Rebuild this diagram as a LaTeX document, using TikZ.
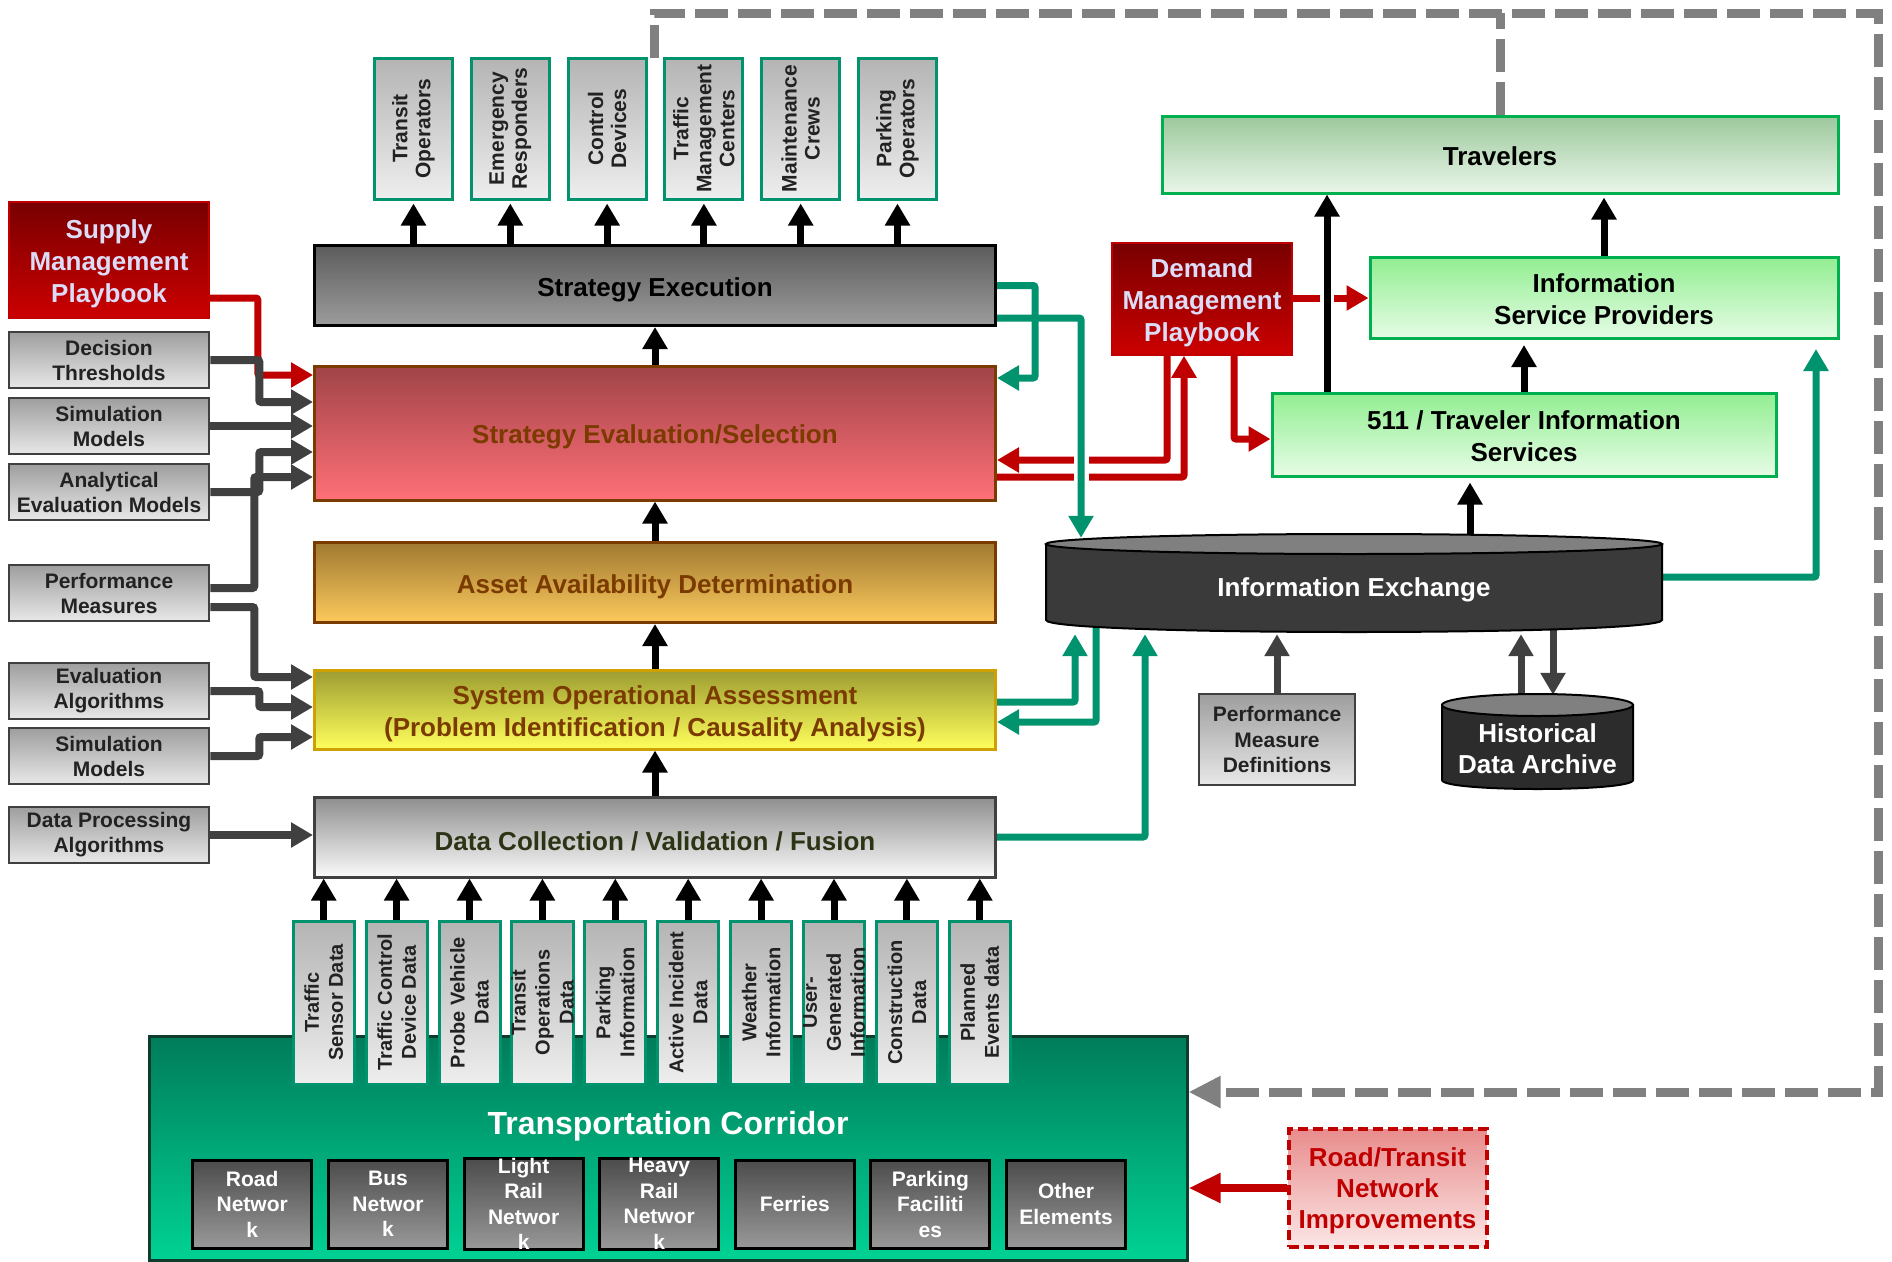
\documentclass[tikz,border=0pt]{standalone}
\usepackage{fontspec}
\setmainfont{Liberation Sans}
\usepackage{xcolor}
\usepackage{tikz}
\usetikzlibrary{arrows.meta}

\definecolor{grayk}{HTML}{404040}
\definecolor{inktext}{HTML}{222222}
\definecolor{inboxtop}{HTML}{9E9E9E}
\definecolor{inboxbot}{HTML}{E8E8E8}
\definecolor{redk}{HTML}{C00000}
\definecolor{pbtop}{HTML}{780000}
\definecolor{pbbot}{HTML}{CC0000}
\definecolor{pbtext}{HTML}{DCDCF6}
\definecolor{brk}{HTML}{7A3A00}
\definecolor{exectop}{HTML}{5C5C5C}
\definecolor{execbot}{HTML}{9C9C9C}
\definecolor{evaltop}{HTML}{A04448}
\definecolor{evalbot}{HTML}{FF7078}
\definecolor{assettop}{HTML}{A07A32}
\definecolor{assetbot}{HTML}{FCC95C}
\definecolor{sysedge}{HTML}{D0A000}
\definecolor{systop}{HTML}{9C9C32}
\definecolor{sysbot}{HTML}{FFFF5C}
\definecolor{dcoltop}{HTML}{8E8E8E}
\definecolor{dcolbot}{HTML}{FAFAFA}
\definecolor{dcoltext}{HTML}{2C3416}
\definecolor{tealk}{HTML}{00936E}
\definecolor{actortop}{HTML}{B4B4B4}
\definecolor{actorbot}{HTML}{EEEEEE}
\definecolor{greenk}{HTML}{00B050}
\definecolor{infotop}{HTML}{92EE92}
\definecolor{infobot}{HTML}{E6FCE6}
\definecolor{travtop}{HTML}{9CC89C}
\definecolor{travbot}{HTML}{EAF6EA}
\definecolor{cylbody}{HTML}{3A3A3A}
\definecolor{hdabody}{HTML}{2C2C2C}
\definecolor{cyltop}{HTML}{808080}
\definecolor{corredge}{HTML}{0D3B2C}
\definecolor{corrtop}{HTML}{007C5A}
\definecolor{corrbot}{HTML}{00D294}
\definecolor{modetop}{HTML}{4C4C4C}
\definecolor{modebot}{HTML}{999999}
\definecolor{imptop}{HTML}{E88C8C}
\definecolor{impbot}{HTML}{FCE6E6}
\definecolor{dashk}{HTML}{808080}

\newcommand{\fsz}[2]{\fontsize{#1}{#2}\selectfont}
\newcommand{\uprule}[1]{\rule{0pt}{#1}}

\pgfdeclarelayer{back}
\pgfsetlayers{back,main}

\tikzset{
  lift/.style={execute at begin node={\rule{0pt}{#1}}},
  inbox/.style={draw=grayk, line width=2.5pt, top color=inboxtop, bottom color=inboxbot, text=inktext, font=\bfseries\fsz{21}{25}, align=center, minimum width=200pt, minimum height=56pt, inner sep=0pt},
  playbook/.style={draw=redk, line width=1.5pt, top color=pbtop, bottom color=pbbot, text=pbtext, font=\bfseries\fsz{26}{32}, align=center, inner sep=0pt},
  stage/.style={line width=3pt, font=\bfseries\fsz{26}{32}, align=center, minimum width=681pt, inner sep=0pt, lift=27pt},
  actor/.style={draw=tealk, line width=3pt, top color=actortop, bottom color=actorbot, text=inktext, rotate=90, font=\bfseries\fsz{21}{23}, align=center, minimum width=141pt, minimum height=78pt, inner sep=0pt},
  feed/.style={actor, font=\bfseries\fsz{20}{24}, minimum width=163pt, minimum height=61pt},
  mode/.style={draw=black, line width=3pt, top color=modetop, bottom color=modebot, text=white, font=\bfseries\fsz{21}{25.5}, align=center, minimum width=119pt, minimum height=88pt, inner sep=0pt},
  infobox/.style={draw=greenk, line width=3pt, top color=infotop, bottom color=infobot, text=black, font=\bfseries\fsz{26}{32}, align=center, inner sep=0pt, lift=23pt},
  blkarrow/.style={draw=black, line width=7pt, -{Triangle[length=22pt,width=24pt]}},
  gryarrow/.style={draw=grayk, line width=8pt, rounded corners=2pt, -{Triangle[length=22pt,width=24pt]}},
  redarrow/.style={draw=redk, line width=7pt, rounded corners=2pt, -{Triangle[length=22pt,width=24pt]}},
  grnarrow/.style={draw=tealk, line width=7pt, rounded corners=2pt, -{Triangle[length=22pt,width=24pt]}},
  loopline/.style={draw=dashk, line width=9pt, dash pattern=on 33pt off 10pt, -{Triangle[length=32pt,width=30pt]}}
}

\begin{document}
\begin{tikzpicture}[x=1pt, y=-1pt]
\useasboundingbox (0,0) rectangle (1892,1261);

\node[playbook, minimum width=200pt, minimum height=116pt] (sup) at (109,260) {\uprule{27pt}Supply\\Management\\Playbook};
\node[inbox] (dth) at (109,360) {Decision\\Thresholds};
\node[inbox] (sim) at (109,426) {Simulation\\Models};
\node[inbox] (aem) at (109,492) {Analytical\\Evaluation Models};
\node[inbox] (pfm) at (109,593) {Performance\\Measures};
\node[inbox] (eva) at (109,691) {Evaluation\\Algorithms};
\node[inbox] (sim2) at (109,756) {Simulation\\Models};
\node[inbox] (dpa) at (109,835) {Data Processing\\Algorithms};

\node[stage, draw=black, top color=exectop, bottom color=execbot, text=black, minimum height=80pt] (sexec) at (655,285.5) {Strategy Execution};
\node[stage, draw=brk, top color=evaltop, bottom color=evalbot, text=brk, minimum height=134pt] (seval) at (655,433) {Strategy Evaluation/Selection};
\node[stage, draw=brk, top color=assettop, bottom color=assetbot, text=brk, minimum height=80pt] (asset) at (655,582.5) {Asset Availability Determination};
\node[stage, draw=sysedge, top color=systop, bottom color=sysbot, text=brk, minimum height=79pt] (sysop) at (655,709.5) {\uprule{27pt}System Operational Assessment\\(Problem Identification / Causality Analysis)};
\node[stage, draw=grayk, top color=dcoltop, bottom color=dcolbot, text=dcoltext, minimum height=80pt, lift=25pt] (dcol) at (655,837) {Data Collection / Validation / Fusion};

\node[actor] (tro) at (413.5,128.5) {Transit\\Operators};
\node[actor] (emr) at (510.3,128.5) {Emergency\\Responders};
\node[actor] (ctl) at (607.1,128.5) {Control\\Devices};
\node[actor] (tmc) at (703.9,128.5) {Traffic\\Management\\Centers};
\node[actor] (mnt) at (800.7,128.5) {Maintenance\\Crews};
\node[actor] (pko) at (897.5,128.5) {Parking\\Operators};

\node[infobox, top color=travtop, bottom color=travbot, minimum width=676pt, minimum height=77pt] (trav) at (1500,154.5) {Travelers};
\node[playbook, minimum width=180pt, minimum height=112pt] (dmp) at (1202,299) {\uprule{27pt}Demand\\Management\\Playbook};
\node[infobox, minimum width=468pt, minimum height=81pt] (isp) at (1604,298) {\uprule{22pt}Information\\Service Providers};
\node[infobox, minimum width=504pt, minimum height=83pt] (tis) at (1524,434.5) {\uprule{22pt}511 / Traveler Information\\Services};

\filldraw[draw=black, line width=2pt, fill=cylbody] (1046,544) -- (1046,620) .. controls (1046,636) and (1662,636) .. (1662,620) -- (1662,544) -- cycle;
\filldraw[draw=black, line width=2pt, fill=cyltop] (1354,544) ellipse [x radius=308, y radius=10];
\node[font=\bfseries\fsz{26}{32}, text=white, minimum width=616pt, minimum height=96pt, inner sep=0pt, lift=27pt] (ie) at (1354,586) {Information Exchange};

\node[inbox, font=\bfseries\fsz{21}{25.5}, minimum width=156pt, minimum height=91pt] (pmd) at (1277,739.5) {Performance\\Measure\\Definitions};

\filldraw[draw=black, line width=2pt, fill=hdabody] (1442,705) -- (1442,780) .. controls (1442,792) and (1633,792) .. (1633,780) -- (1633,705) -- cycle;
\filldraw[draw=black, line width=2pt, fill=cyltop] (1537.5,705) ellipse [x radius=95.5, y radius=11];
\node[font=\bfseries\fsz{26}{31}, text=white, align=center, minimum width=191pt, minimum height=100pt, inner sep=0pt] (hda) at (1537.5,745) {\uprule{26pt}Historical\\Data Archive};

\node[draw=corredge, line width=3pt, top color=corrtop, bottom color=corrbot, minimum width=1038pt, minimum height=224pt, inner sep=0pt] (corr) at (668,1148) {};
\node[font=\bfseries\fsz{32}{38}, text=white, inner sep=0pt, lift=32pt] (corrlbl) at (668,1122) {Transportation Corridor};

\node[feed] (tsd) at (323.7,1002.5) {Traffic\\Sensor Data};
\node[feed] (tcd) at (396.6,1002.5) {Traffic Control\\Device Data};
\node[feed] (pvd) at (469.5,1002.5) {Probe Vehicle\\Data};
\node[feed] (tod) at (542.4,1002.5) {Transit\\Operations\\Data};
\node[feed] (pki) at (615.3,1002.5) {Parking\\Information};
\node[feed] (aid) at (688.2,1002.5) {Active Incident\\Data};
\node[feed] (wxi) at (761.1,1002.5) {Weather\\Information};
\node[feed] (ugi) at (834,1002.5) {User-\\Generated\\Information};
\node[feed] (cnd) at (906.9,1002.5) {Construction\\Data};
\node[feed] (ped) at (979.8,1002.5) {Planned\\Events data};

\node[mode] (road) at (252.2,1204) {Road\\Networ\\k};
\node[mode] (bus) at (388,1204) {Bus\\Networ\\k};
\node[mode] (lrail) at (523.6,1204) {Light\\Rail\\Networ\\k};
\node[mode] (hrail) at (659.2,1204) {Heavy\\Rail\\Networ\\k};
\node[mode] (ferry) at (794.8,1204) {Ferries};
\node[mode] (park) at (930.4,1204) {Parking\\Faciliti\\es};
\node[mode] (other) at (1066,1204) {Other\\Elements};

\node[draw=redk, line width=4pt, dash pattern=on 10pt off 5pt, top color=imptop, bottom color=impbot, text=redk, font=\bfseries\fsz{26}{31}, align=center, minimum width=198pt, minimum height=118pt, inner sep=0pt] (rtni) at (1387.5,1188) {\uprule{24pt}Road/Transit\\Network\\Improvements};

\begin{pgfonlayer}{back}
\coordinate (fbtop) at (654,58);
\draw[loopline] (fbtop) |- (1878,13) |- (corr.east |- 0,1092);
\draw[loopline, -] (trav.north) -- (trav.north |- 0,13);

\draw[redarrow] (sup.east |- 0,298) -- ++(48,0) |- (seval.west |- 0,375);
\draw[gryarrow] (dth.east) -- ++(49,0) |- (seval.west |- 0,402);
\draw[gryarrow] (sim.east) -- (seval.west |- sim.east);
\draw[gryarrow] (aem.east) -- ++(49,0) |- (seval.west |- 0,452);
\draw[gryarrow] (pfm.east |- 0,588) -- ++(44,0) |- (seval.west |- 0,477);
\draw[gryarrow] (pfm.east |- 0,607) -- ++(44,0) |- (sysop.west |- 0,677);
\draw[gryarrow] (eva.east) -- ++(49,0) |- (sysop.west |- 0,707);
\draw[gryarrow] (sim2.east) -- ++(49,0) |- (sysop.west |- 0,737);
\draw[gryarrow] (dpa.east) -- (dcol.west |- dpa.east);

\draw[blkarrow] (dcol.north) -- (sysop.south);
\draw[blkarrow] (sysop.north) -- (asset.south);
\draw[blkarrow] (asset.north) -- (seval.south);
\draw[blkarrow] (seval.north) -- (sexec.south);
\foreach \n in {tsd,tcd,pvd,tod,pki,aid,wxi,ugi,cnd,ped}
  \draw[blkarrow] (\n.east) -- (dcol.south -| \n.east);
\foreach \n in {tro,emr,ctl,tmc,mnt,pko}
  \draw[blkarrow, shorten >=3pt] (sexec.north -| \n.west) -- (\n.west);

\draw[redarrow] (dmp.east |- 0,298) -- (isp.west |- 0,298);
\draw[redarrow] (dmp.south -| 1167,0) |- (seval.east |- 0,460);
\draw[redarrow] (seval.east |- 0,477) -| (dmp.south -| 1184,0);
\draw[redarrow] (dmp.south -| 1234,0) |- (tis.west |- 0,439);

\draw[white, line width=15pt] (1081,448) -- (1081,489);
\draw[white, line width=14pt] (1327,287) -- (1327,309);

\draw[grnarrow] (sexec.east) -- ++(38,0) |- (seval.east |- 0,378);
\draw[grnarrow] (sexec.east |- 0,318) -| (ie.north -| 1081,0);
\draw[grnarrow] (sysop.east |- 0,702) -| (ie.south -| 1075,0);
\draw[grnarrow] (ie.center -| 1096,0) |- (sysop.east |- 0,722);
\draw[grnarrow] (dcol.east) -| (ie.south -| 1145,0);
\draw[grnarrow, shorten >=9pt] (ie.east |- 0,577) -| (isp.south -| 1816,0);

\draw[blkarrow] (tis.north -| 1327,0) -- (trav.south -| 1327,0);
\draw[blkarrow, shorten >=3pt] (isp.north) -- (trav.south -| isp.north);
\draw[blkarrow, shorten >=5pt] (tis.north) -- (isp.south -| tis.north);
\draw[blkarrow, shorten >=5pt] (ie.center -| 1470,0) -- (tis.south -| 1470,0);

\draw[gryarrow, line width=7pt] (pmd.north) -- (ie.south -| pmd.north);
\draw[gryarrow, line width=7pt] (hda.center -| 1521,0) -- (ie.south -| 1521,0);
\draw[gryarrow, line width=7pt] (ie.center -| 1553,0) -- (hda.north -| 1553,0);

\draw[redarrow, line width=8pt, -{Triangle[length=32pt,width=28pt]}] (rtni.west) -- (corr.east |- rtni.west);
\end{pgfonlayer}
\end{tikzpicture}
\end{document}
